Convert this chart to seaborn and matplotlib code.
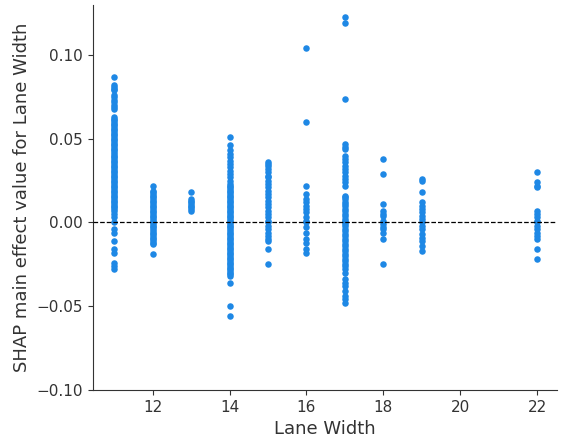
import matplotlib
matplotlib.use("Agg")
import matplotlib.pyplot as plt
import seaborn as sns
import pandas as pd

# SHAP main-effect values grouped by observed lane width
lane_widths = [11, 12, 13, 14, 15, 16, 17, 18, 19, 22]

shap_11 = [0.087, 0.082, 0.081, 0.080, 0.079, 0.076, 0.075, 0.073, 0.072, 0.070,
           0.069, 0.068, 0.063, 0.062, 0.061, 0.060, 0.059, 0.058, 0.057, 0.056,
           0.055, 0.054, 0.053, 0.052, 0.051, 0.050, 0.049, 0.048, 0.047, 0.046,
           0.045, 0.044, 0.043, 0.042, 0.041, 0.040, 0.039, 0.038, 0.037, 0.036,
           0.035, 0.034, 0.033, 0.032, 0.031, 0.030, 0.029, 0.028, 0.027, 0.026,
           0.025, 0.024, 0.023, 0.022, 0.021, 0.020, 0.019, 0.018, 0.017, 0.016,
           0.015, 0.014, 0.013, 0.012, 0.011, 0.010, 0.009, 0.008, 0.007, 0.005,
           0.003, 0.000, -0.004, -0.006, -0.011, -0.016, -0.018, -0.024, -0.026,
           -0.028]
shap_12 = [0.022, 0.019, 0.018, 0.017, 0.016, 0.015, 0.014, 0.013, 0.012, 0.011,
           0.010, 0.009, 0.008, 0.007, 0.006, 0.005, 0.004, 0.003, 0.002, 0.001,
           0.000, -0.001, -0.002, -0.003, -0.004, -0.005, -0.006, -0.007, -0.008,
           -0.009, -0.010, -0.011, -0.012, -0.013, -0.019]
shap_13 = [0.018, 0.014, 0.013, 0.012, 0.011, 0.010, 0.009, 0.008, 0.007]
shap_14 = [0.051, 0.046, 0.043, 0.041, 0.039, 0.037, 0.035, 0.033, 0.031, 0.029,
           0.027, 0.025, 0.023, 0.022, 0.021, 0.020, 0.019, 0.018, 0.017, 0.016,
           0.015, 0.014, 0.013, 0.012, 0.011, 0.010, 0.009, 0.008, 0.007, 0.006,
           0.005, 0.004, 0.003, 0.002, 0.001, 0.000, -0.001, -0.002, -0.003,
           -0.004, -0.005, -0.006, -0.007, -0.008, -0.009, -0.010, -0.011, -0.012,
           -0.013, -0.014, -0.015, -0.016, -0.017, -0.018, -0.019, -0.020, -0.021,
           -0.022, -0.023, -0.024, -0.025, -0.026, -0.027, -0.028, -0.029, -0.030,
           -0.031, -0.032, -0.036, -0.050, -0.056]
shap_15 = [0.036, 0.035, 0.034, 0.032, 0.030, 0.028, 0.027, 0.025, 0.023, 0.021,
           0.019, 0.017, 0.015, 0.013, 0.011, 0.009, 0.007, 0.005, 0.003, 0.001,
           0.000, -0.002, -0.004, -0.006, -0.008, -0.010, -0.011, -0.016, -0.025]
shap_16 = [0.104, 0.060, 0.022, 0.017, 0.014, 0.012, 0.010, 0.008, 0.006, 0.003,
           0.001, 0.000, -0.003, -0.006, -0.010, -0.012, -0.016, -0.018]
shap_17 = [0.123, 0.119, 0.074, 0.047, 0.045, 0.044, 0.040, 0.038, 0.036, 0.034,
           0.032, 0.030, 0.028, 0.026, 0.024, 0.022, 0.016, 0.015, 0.014, 0.012,
           0.011, 0.010, 0.008, 0.007, 0.005, 0.004, 0.002, 0.001, 0.000, -0.001,
           -0.002, -0.004, -0.005, -0.007, -0.008, -0.010, -0.011, -0.013, -0.014,
           -0.016, -0.017, -0.019, -0.020, -0.022, -0.023, -0.025, -0.026, -0.028,
           -0.030, -0.034, -0.036, -0.038, -0.041, -0.044, -0.046, -0.048]
shap_18 = [0.038, 0.029, 0.011, 0.007, 0.005, 0.004, 0.001, -0.001, -0.003,
           -0.004, -0.006, -0.010, -0.025]
shap_19 = [0.026, 0.025, 0.018, 0.012, 0.010, 0.008, 0.006, 0.004, 0.002, 0.000,
           -0.002, -0.004, -0.007, -0.009, -0.011, -0.014, -0.017]
shap_22 = [0.030, 0.024, 0.022, 0.021, 0.007, 0.005, 0.003, 0.001, 0.000,
           -0.002, -0.004, -0.006, -0.008, -0.010, -0.016, -0.022]

groups = [shap_11, shap_12, shap_13, shap_14, shap_15,
          shap_16, shap_17, shap_18, shap_19, shap_22]

df = pd.DataFrame({
    "Lane Width": [w for w, vals in zip(lane_widths, groups) for _ in vals],
    "shap": [v for vals in groups for v in vals],
})

axis_color = "#333333"
dot_color = "#1E88E5"

fig = plt.figure(figsize=(5.63, 4.42), dpi=100)
ax = fig.add_axes([0.165, 0.118, 0.825, 0.871])

sns.scatterplot(data=df, x="Lane Width", y="shap", color=dot_color,
                s=22, linewidth=0, alpha=1.0, ax=ax, legend=False)

ax.axhline(0, color="black", linestyle="--", linewidth=0.9, zorder=3)

ax.set_xlim(10.44, 22.53)
ax.set_ylim(-0.10, 0.13)
ax.set_xticks([12, 14, 16, 18, 20, 22])
ax.set_yticks([-0.10, -0.05, 0.00, 0.05, 0.10])
ax.set_yticklabels(["\u22120.10", "\u22120.05", "0.00", "0.05", "0.10"])

ax.set_xlabel("Lane Width", fontsize=13, color=axis_color)
ax.set_ylabel("SHAP main effect value for Lane Width", fontsize=13, color=axis_color)

for side in ("top", "right"):
    ax.spines[side].set_visible(False)
for side in ("left", "bottom"):
    ax.spines[side].set_color(axis_color)
ax.tick_params(color=axis_color, labelcolor=axis_color, labelsize=11)

fig.savefig("out.png", dpi=100)
